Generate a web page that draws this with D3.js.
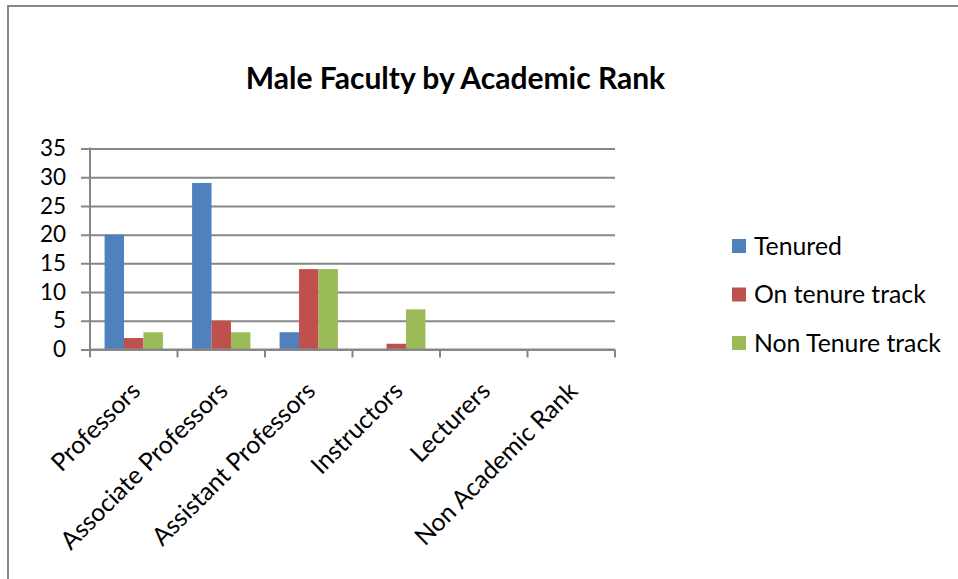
<!DOCTYPE html>
<html>
<head>
<meta charset="utf-8">
<script src="https://cdn.jsdelivr.net/npm/d3@7"></script>
<style>
  body { margin: 0; background: #fff; }
  text { font-family: Lato, "Open Sans", sans-serif; fill: #000; }
</style>
</head>
<body>
<div class="chart-div"></div>
<script>
var categories = ["Professors", "Associate Professors", "Assistant Professors",
                  "Instructors", "Lecturers", "Non Academic Rank"];
var series_names = ["Tenured", "On tenure track", "Non Tenure track"];
var tenured = [20, 29, 3, 0, 0, 0];
var on_track = [2, 5, 14, 1, 0, 0];
var non_tenure = [3, 3, 14, 7, 0, 0];
var y_ticks = [0, 5, 10, 15, 20, 25, 30, 35];
var colours = ["#4f81bd", "#c0504d", "#9bbb59"];

var width = 958,
    height = 579,
    plot_left = 90,
    plot_right = 615,
    plot_top = 148.5,
    plot_bottom = 349.5,
    axis_colour = "#878787",
    tick_font = 22.5,
    font_size = 24.8;

var series = [tenured, on_track, non_tenure];

var svg = d3.select('.chart-div')
  .append('svg')
  .attr('width', width)
  .attr('height', height);

// chart frame, runs off the right and bottom edges
svg.append('rect')
  .attr('x', 8)
  .attr('y', 6)
  .attr('width', width + 20)
  .attr('height', height + 20)
  .attr('fill', 'none')
  .attr('stroke', axis_colour)
  .attr('stroke-width', 2);

svg.append('text')
  .attr('x', 455.5)
  .attr('y', 88.5)
  .attr('text-anchor', 'middle')
  .style('font-size', '30px')
  .style('font-weight', 'bold')
  .text('Male Faculty by Academic Rank');

var x = d3.scaleBand()
  .domain(categories)
  .range([plot_left, plot_right]);

var x_inner = d3.scaleBand()
  .domain(series_names)
  .range([0, x.bandwidth()])
  .paddingOuter(0.75);

var y = d3.scaleLinear()
  .domain([0, 35])
  .range([plot_bottom, plot_top]);

// gridlines + y axis
var y_axis = svg.append('g')
  .attr('transform', 'translate(' + plot_left + ',0)')
  .call(d3.axisLeft(y).tickValues(y_ticks).tickSize(9).tickPadding(15));
y_axis.select('.domain').remove();
y_axis.selectAll('.tick line')
  .attr('x2', plot_right - plot_left)
  .attr('x1', -9)
  .attr('stroke', axis_colour)
  .attr('stroke-width', 2);
y_axis.selectAll('.tick text')
  .attr('font-family', null)
  .style('font-size', tick_font + 'px');

svg.append('line')
  .attr('x1', plot_left).attr('x2', plot_left)
  .attr('y1', plot_top - 1).attr('y2', plot_bottom + 1)
  .attr('stroke', axis_colour)
  .attr('stroke-width', 2);

// bars
series.forEach(function(vals, s) {
  svg.append('g')
    .selectAll('rect')
    .data(vals)
    .enter()
    .append('rect')
    .attr('x', function(d, i) { return x(categories[i]) + x_inner(series_names[s]); })
    .attr('y', function(d) { return y(d); })
    .attr('width', x_inner.bandwidth())
    .attr('height', function(d) { return y(0) - y(d); })
    .attr('fill', colours[s]);
});

// x axis
svg.append('line')
  .attr('x1', plot_left).attr('x2', plot_right)
  .attr('y1', plot_bottom).attr('y2', plot_bottom)
  .attr('stroke', axis_colour)
  .attr('stroke-width', 2);

var tick_pos = categories.map(function(c) { return x(c); }).concat([plot_right]);
svg.append('g')
  .selectAll('line')
  .data(tick_pos)
  .enter()
  .append('line')
  .attr('x1', function(d) { return d; })
  .attr('x2', function(d) { return d; })
  .attr('y1', plot_bottom)
  .attr('y2', plot_bottom + 8)
  .attr('stroke', axis_colour)
  .attr('stroke-width', 2);

svg.append('g')
  .selectAll('text')
  .data(categories)
  .enter()
  .append('text')
  .attr('transform', function(d) {
    return 'translate(' + (x(d) + x.bandwidth()/2 + 8) + ',' + (plot_bottom + 43) + ') rotate(-45)';
  })
  .attr('text-anchor', 'end')
  .style('font-size', font_size + 'px')
  .text(function(d) { return d; });

// legend
var legend = svg.append('g')
  .selectAll('g')
  .data(series_names)
  .enter()
  .append('g')
  .attr('transform', function(d, i) { return 'translate(732,' + (246 + i*48.5) + ')'; });

legend.append('rect')
  .attr('x', 0)
  .attr('y', -7)
  .attr('width', 14)
  .attr('height', 14)
  .attr('fill', function(d, i) { return colours[i]; });

legend.append('text')
  .attr('x', 22)
  .attr('dy', '0.35em')
  .style('font-size', font_size + 'px')
  .text(function(d) { return d; });
</script>
</body>
</html>
